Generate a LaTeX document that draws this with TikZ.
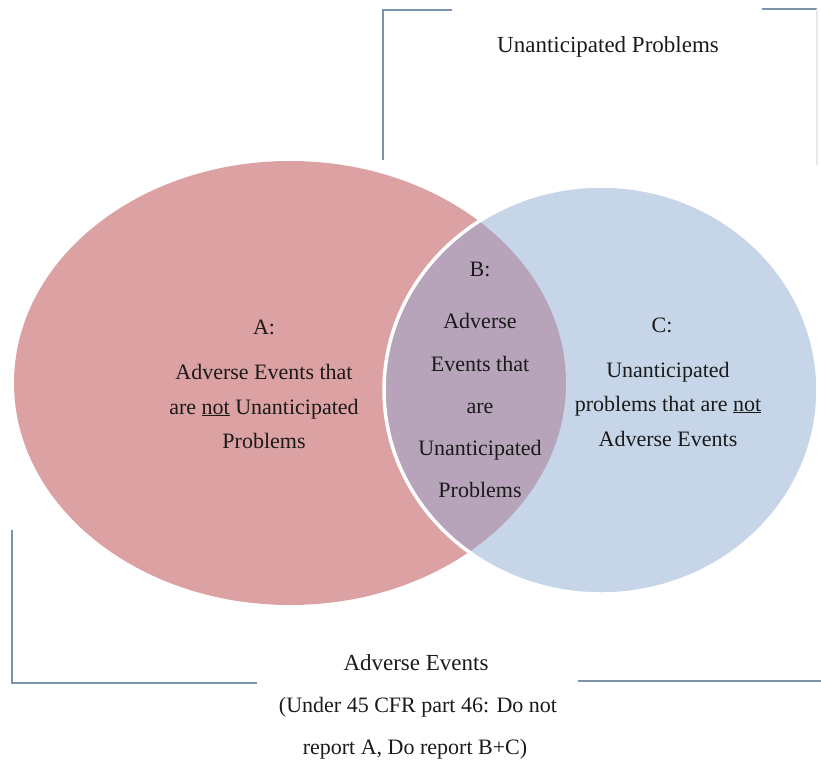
\documentclass[tikz,border=0pt]{standalone}
\usepackage{fontspec}
\setmainfont{Liberation Serif}
\definecolor{redfill}{HTML}{DCA1A2}
\definecolor{bluefill}{HTML}{C6D6E8}
\definecolor{overlapfill}{HTML}{B7A4BA}
\definecolor{framecol}{HTML}{7D93AB}
\definecolor{framefaint}{HTML}{E3E8EE}
\definecolor{txt}{HTML}{1A1A1A}
\begin{document}
\begin{tikzpicture}[x=1pt,y=-1pt,
  lbl/.style={anchor=base, inner sep=0pt, text=txt, font=\fontsize{22}{26}\selectfont},
  ttl/.style={anchor=base, inner sep=0pt, text=txt, font=\fontsize{23}{27}\selectfont},
  frame/.style={draw=framecol, line width=1.8pt}]
\useasboundingbox (0,0) rectangle (821,764);
% circles
\fill[redfill] (290,383) ellipse [x radius=276pt, y radius=222pt];
\fill[bluefill] (601,390) ellipse [x radius=217pt, y radius=204pt];
\begin{scope}
  \clip (290,383) ellipse [x radius=276pt, y radius=222pt];
  \fill[overlapfill] (601,390) ellipse [x radius=217pt, y radius=204pt];
\end{scope}
\draw[white, line width=3.5pt] (601,390) ellipse [x radius=217pt, y radius=204pt];
% frames
\coordinate (t1) at (452,10);
\coordinate (t2) at (383,10);
\coordinate (t3) at (383,160);
\coordinate (t4) at (762,9);
\coordinate (t5) at (817,9);
\coordinate (t6) at (817,165);
\draw[frame] (t1) -- (t2) -- (t3);
\draw[frame] (t4) -- (t5);
\draw[draw=framefaint, line width=1.5pt] (t5) -- (t6);
\coordinate (b1) at (12,530);
\coordinate (b2) at (12,683);
\coordinate (b3) at (257,683);
\coordinate (b4) at (578,681);
\coordinate (b5) at (821,681);
\draw[frame] (b1) -- (b2) -- (b3);
\draw[frame] (b4) -- (b5);
% titles
\node[ttl] (up) at (608,52) {Unanticipated Problems};
\node[ttl] (ae) at (416,670) {Adverse Events};
\node[lbl] (ae2) at (418,712) {(Under 45 CFR part 46: Do not};
\node[lbl] (ae3) at (415,754) {report A, Do report B+C)};
% A
\node[lbl] (A0) at (264,334) {A:};
\node[lbl] (A1) at (264,379) {Adverse Events that};
\node[lbl] (A2) at (264,414) {are \underline{not} Unanticipated};
\node[lbl] (A3) at (264,448) {Problems};
% B
\node[lbl] (B0) at (480,276) {B:};
\node[lbl] (B1) at (480,328) {Adverse};
\node[lbl] (B2) at (480,371) {Events that};
\node[lbl] (B3) at (480,413) {are};
\node[lbl] (B4) at (480,455) {Unanticipated};
\node[lbl] (B5) at (480,497) {Problems};
% C
\node[lbl] (C0) at (662,332) {C:};
\node[lbl] (C1) at (668,377) {Unanticipated};
\node[lbl] (C2) at (668,411) {problems that are \underline{not}};
\node[lbl] (C3) at (668,446) {Adverse Events};
\end{tikzpicture}
\end{document}
